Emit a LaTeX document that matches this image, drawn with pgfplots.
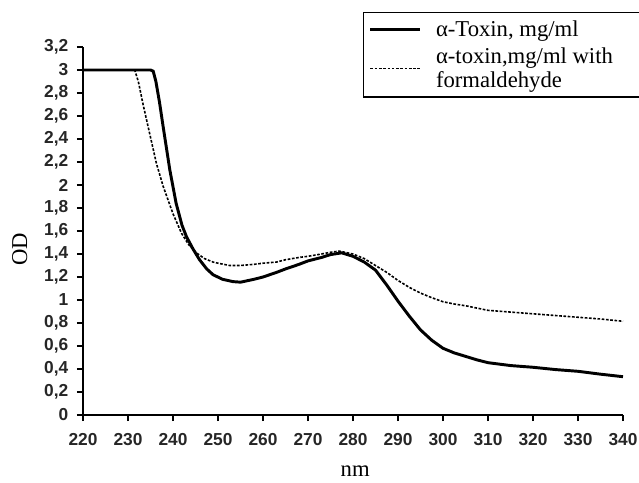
\documentclass[border=0pt]{standalone}
\usepackage{pgfplots}
\pgfplotsset{compat=1.18}
\usepackage{fontspec}
\setmainfont{Liberation Serif}
\setsansfont{Liberation Sans}

\begin{document}
\begin{tikzpicture}

\begin{axis}[%
scale only axis,%
width=405pt,%
height=276pt,%
xmin=220, xmax=340,%
ymin=0, ymax=3.2,%
xtick={220,230,...,340},%
ytick={0,0.2,...,3.2},%
axis lines=left,%
axis line style={line width=1.2pt,-},%
tick style={line width=1pt,black},%
major tick length=4.5pt,%
tick align=outside,%
ticklabel style={font=\sffamily\bfseries\fontsize{13}{14}\selectfont,text=black!85},%
xticklabel style={yshift=-6pt},%
yticklabel style={xshift=-3pt},%
/pgf/number format/use comma,%
/pgf/number format/assume math mode=true,%
xlabel={nm},%
ylabel={OD},%
label style={font=\fontsize{17}{19}\selectfont},%
xlabel style={at={(axis description cs:0.504,-0.152)},anchor=center},%
ylabel style={at={(axis description cs:-0.117,0.45)},anchor=center,rotate=0},%
legend style={at={(axis description cs:0.5185,1.0951)},anchor=north west,%
  draw=black,line width=1pt,font=\fontsize{17}{17.5}\selectfont,%
  inner xsep=4pt,inner ysep=4pt,row sep=2.8pt},%
legend cell align=left,%
legend image code/.code={\draw[#1] (0cm,0cm) -- (1.3cm,0cm); \path (1.62cm,0cm);},%
clip=false]%

\addplot [%
color=black,%
solid,%
line width=2.2pt%
] coordinates{
(220,3.0) (235,3.0) (235.6,2.99) (236.2,2.9) (237,2.72) (237.8,2.51)
(239.3,2.13) (240.7,1.84) (242,1.65) (243,1.55) (244.5,1.44) (245.9,1.35)
(247.5,1.27) (248.9,1.22) (251,1.18) (253.3,1.16) (255,1.155) (258,1.18)
(260,1.2) (263,1.24) (265,1.27) (268,1.31) (270,1.34) (273,1.37)
(275,1.395) (277.5,1.41) (280,1.38) (282.5,1.33) (285,1.26) (287.5,1.13)
(290,0.99) (292.5,0.86) (295,0.74) (297.5,0.65) (300,0.58) (302.5,0.54)
(305,0.51) (307.5,0.48) (310,0.455) (315,0.43) (320,0.415) (325,0.395)
(330,0.38) (335,0.355) (340,0.333)
};
\addlegendentry{\makebox[200pt][l]{α-Toxin, mg/ml}}

\addplot [%
color=black,%
dash pattern=on 2pt off 1.2pt,%
line width=1.2pt%
] coordinates{
(220,3.0) (231.5,3.0) (232.3,2.9) (233.3,2.71) (234.8,2.45) (236.3,2.19)
(237.8,1.99) (240,1.75) (241.9,1.58) (243.5,1.48) (245.2,1.41) (247,1.36)
(248.9,1.33) (250,1.32) (252.6,1.30) (255,1.30) (258,1.31) (260,1.32)
(263,1.33) (265,1.35) (268,1.37) (270,1.38) (273,1.40) (275,1.415)
(277,1.425) (280,1.40) (282.5,1.36) (285,1.30) (287.5,1.24) (290,1.17)
(292.5,1.11) (295,1.06) (297.5,1.02) (300,0.985) (302.5,0.965) (305,0.95)
(307.5,0.93) (310,0.91) (315,0.895) (320,0.88) (325,0.865) (330,0.85)
(335,0.835) (340,0.815)
};
\addlegendentry{\begin{tabular}[b]{@{}l@{}}α-toxin,mg/ml with\\formaldehyde\end{tabular}}

\end{axis}
% 1 px of the reference = 0.75pt; axis origin at (0,0)
\pgfresetboundingbox
\useasboundingbox (-62.25pt,-50.25pt) rectangle (417pt,311.25pt);
\end{tikzpicture}
\end{document}
